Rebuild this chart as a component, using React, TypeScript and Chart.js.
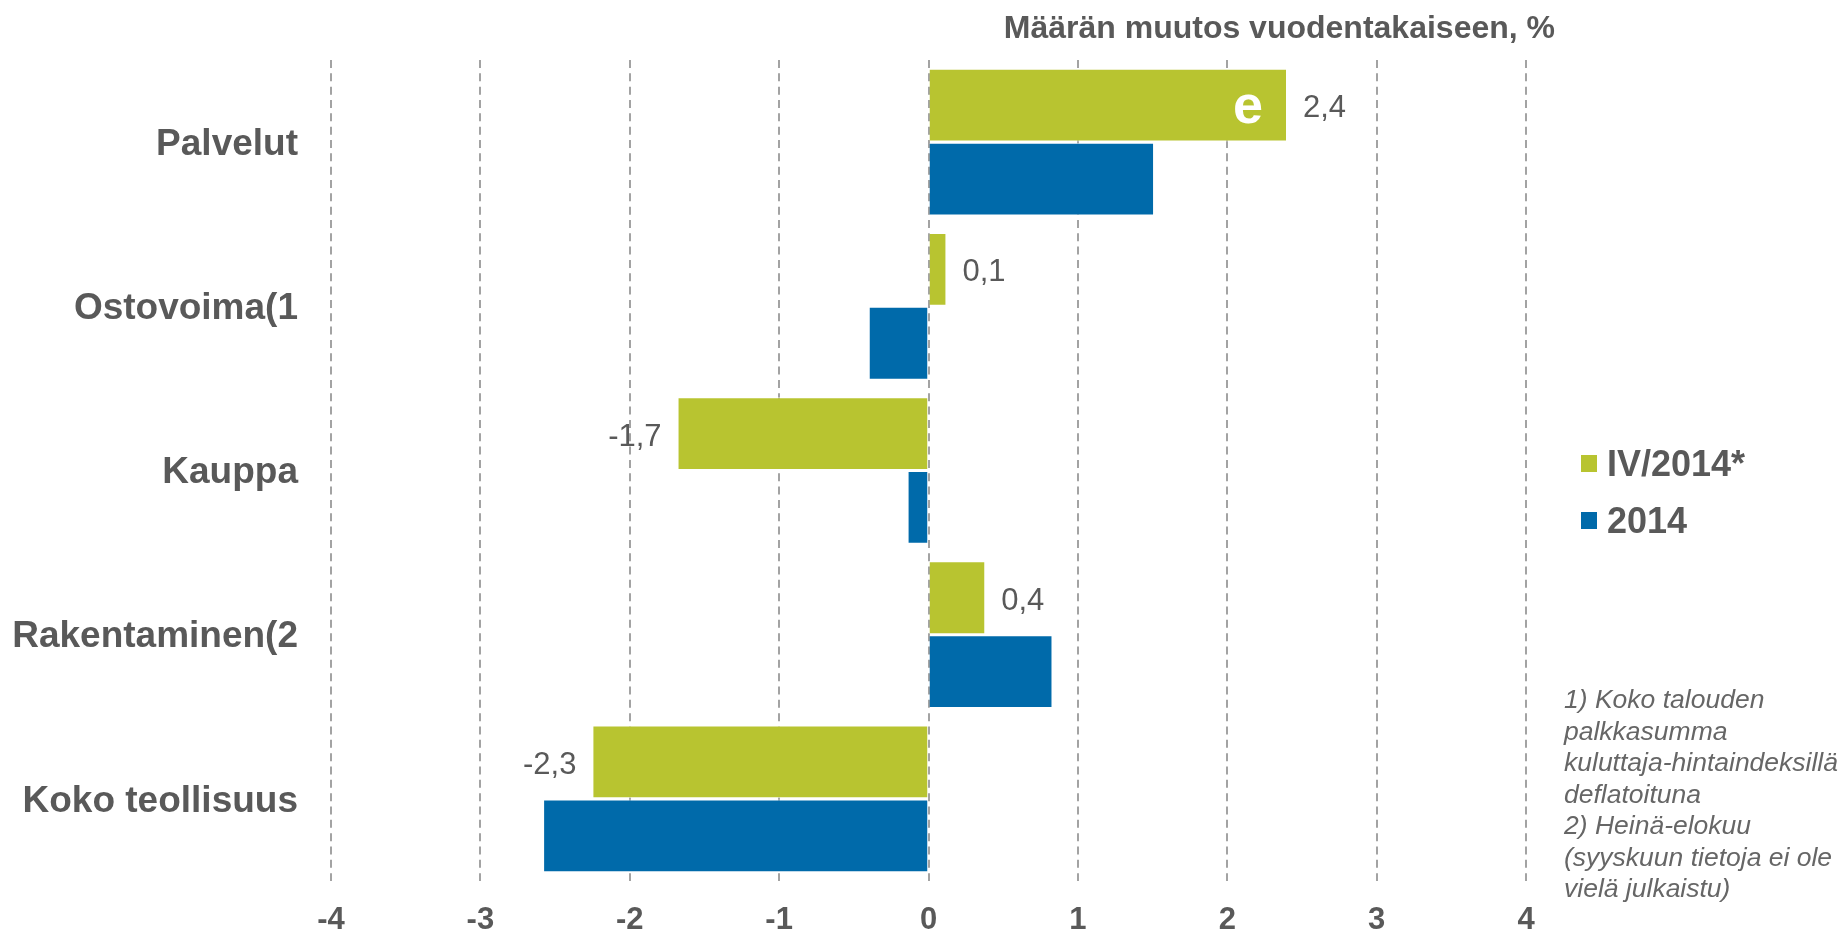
import React, { useEffect, useRef } from "react";
import { Chart, registerables } from "chart.js";

Chart.register(...registerables);

const categories = ["Palvelut", "Ostovoima(1", "Kauppa", "Rakentaminen(2", "Koko teollisuus"];
const seriesNames = ["IV/2014*", "2014"];
const q4Values = [2.4, 0.12, -1.68, 0.38, -2.25];
const yearValues = [1.51, -0.4, -0.14, 0.83, -2.58];
const q4Labels = ["2,4", "0,1", "-1,7", "0,4", "-2,3"];
const xTicks = [-4, -3, -2, -1, 0, 1, 2, 3, 4];
const titleText = "Määrän muutos vuodentakaiseen, %";
const estimateMark = "e";
const notes = [
  "1) Koko talouden",
  "palkkasumma",
  "kuluttaja-hintaindeksillä",
  "deflatoituna",
  "2) Heinä-elokuu",
  "(syyskuun tietoja ei ole",
  "vielä julkaistu)",
];

const GREEN = "#B8C430";
const BLUE = "#006AAA";
const TEXT = "#595959";
const FONT = "'Liberation Sans', Arial, sans-serif";

const overlayPlugin = {
  id: "overlay",
  afterDatasetsDraw(chart: any) {
    const ctx = chart.ctx;
    ctx.save();
    const meta = chart.getDatasetMeta(0);
    ctx.font = `31px ${FONT}`;
    ctx.fillStyle = TEXT;
    ctx.textBaseline = "alphabetic";
    meta.data.forEach((bar: any, i: number) => {
      const v = q4Values[i];
      if (v >= 0) {
        ctx.textAlign = "left";
        ctx.fillText(q4Labels[i], bar.x + 16, bar.y + 12);
      } else {
        ctx.textAlign = "right";
        ctx.fillText(q4Labels[i], bar.x - 16, bar.y + 12);
      }
    });
    const b0 = meta.data[0];
    ctx.font = `bold 54px ${FONT}`;
    ctx.fillStyle = "#ffffff";
    ctx.textAlign = "right";
    ctx.fillText(estimateMark, b0.x - 24, b0.y + 18);

    // title
    ctx.font = `bold 32px ${FONT}`;
    ctx.fillStyle = TEXT;
    ctx.textAlign = "right";
    ctx.fillText(titleText, 1555, 38);

    // legend
    chart.data.datasets.forEach((ds: any, i: number) => {
      ctx.fillStyle = ds.backgroundColor;
      ctx.fillRect(1581, 455 + i * 57, 16, 17);
      ctx.fillStyle = TEXT;
      ctx.font = `bold 36px ${FONT}`;
      ctx.textAlign = "left";
      ctx.fillText(ds.label, 1607, 476 + i * 57);
    });

    // notes
    ctx.font = `italic 26.5px ${FONT}`;
    ctx.fillStyle = "#666666";
    ctx.textAlign = "left";
    notes.forEach((line, i) => {
      ctx.fillText(line, 1564, 708 + i * 31.5);
    });
    ctx.restore();
  },
};

export default function App() {
  const ref = useRef<HTMLCanvasElement | null>(null);
  useEffect(() => {
    if (!ref.current) return;
    const chart = new Chart(ref.current, {
      type: "bar",
      data: {
        labels: categories,
        datasets: [
          {
            label: seriesNames[0],
            data: q4Values,
            backgroundColor: GREEN,
            borderColor: "rgba(255,255,255,0.8)",
            borderWidth: 1,
            categoryPercentage: 0.9,
            barPercentage: 0.985,
          },
          {
            label: seriesNames[1],
            data: yearValues,
            backgroundColor: BLUE,
            borderColor: "rgba(255,255,255,0.8)",
            borderWidth: 1,
            categoryPercentage: 0.9,
            barPercentage: 0.985,
          },
        ],
      },
      options: {
        indexAxis: "y",
        responsive: false,
        animation: false,
        layout: { autoPadding: false, padding: { top: 60, right: 314, left: 0, bottom: 0 } },
        plugins: {
          legend: { display: false },
          tooltip: { enabled: false },
          title: { display: false },
        },
        scales: {
          x: {
            min: xTicks[0],
            max: xTicks[xTicks.length - 1],
            afterBuildTicks: (s: any) => {
              s.ticks = xTicks.map((v) => ({ value: v }));
            },
            ticks: {
              font: { family: FONT, size: 31, weight: "bold" },
              color: TEXT,
              padding: 21,
              callback: (v: any) => String(v),
            },
            grid: { color: "#a3a3a3", lineWidth: 2, drawTicks: false },
            border: { display: false, dash: [8, 5.33] },
            afterFit: (s: any) => {
              s.height = 49;
            },
          },
          y: {
            ticks: {
              font: { family: FONT, size: 37, weight: "bold" },
              color: TEXT,
              padding: 0,
              labelOffset: 2.5,
            },
            grid: {
              display: true,
              drawOnChartArea: false,
              drawTicks: true,
              tickLength: 33,
              color: "rgba(0,0,0,0)",
            },
            border: { display: false },
            afterFit: (s: any) => {
              s.width = 331;
            },
          },
        },
      },
      plugins: [overlayPlugin],
    } as any);
    return () => chart.destroy();
  }, []);
  return (
    <div style={{ position: "absolute", left: 0, top: 0, width: 1840, height: 930, background: "#fff" }}>
      <canvas ref={ref} width={1840} height={930} style={{ width: 1840, height: 930 }} />
    </div>
  );
}
